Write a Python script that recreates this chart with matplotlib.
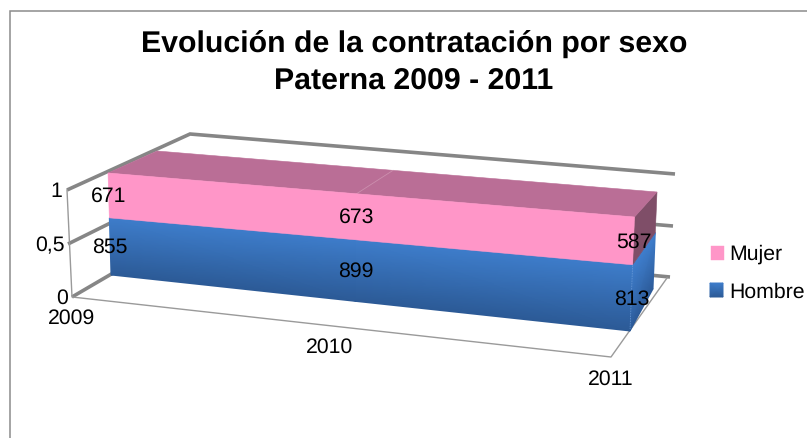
import matplotlib
matplotlib.use("Agg")
import matplotlib.pyplot as plt
from matplotlib.colors import LinearSegmentedColormap
import numpy as np

# ---- data ----
years = ["2009", "2010", "2011"]
hombre = [855, 899, 813]
mujer = [671, 673, 587]
value_ticks = [0, 0.5, 1]
value_tick_labels = ["0", "0,5", "1"]
title = "Evolución de la contratación por sexo\nPaterna 2009 - 2011"

plt.rcParams["font.family"] = ["Liberation Sans", "DejaVu Sans"]
plt.rcParams["text.hinting"] = "no_hinting"
FS = 15.3
W, H = 807, 439
fig = plt.figure(figsize=(W / 100, H / 100), dpi=100, facecolor="white")
ax = fig.add_axes([0, 0, 1, 1])
ax.set_xlim(0, W)
ax.set_ylim(H, 0)
ax.axis("off")

# ---- pseudo-3D projection of the box (x along years, v stack share, d depth) ----
FL0, FL1 = np.array([111.0, 276.0]), np.array([108.0, 174.0])
FR0, FR1 = np.array([630.0, 332.0]), np.array([634.5, 218.0])
BL0, BL1 = np.array([159.0, 238.0]), np.array([157.0, 152.0])
BR0, BR1 = np.array([653.0, 290.0]), np.array([657.0, 193.0])
cat_pos = np.array([0.0, 0.472, 1.0])


def box(x, v, d=0.0):
    front = (1 - x) * ((1 - v) * FL0 + v * FL1) + x * ((1 - v) * FR0 + v * FR1)
    back = (1 - x) * ((1 - v) * BL0 + v * BL1) + x * ((1 - v) * BR0 + v * BR1)
    return (1 - d) * front + d * back


def lerp(a, b, t):
    return np.asarray(a) * (1 - t) + np.asarray(b) * t


def gradient(lower, upper, c_top, c_bot, z=3):
    """Smooth vertical-ish gradient between two polylines."""
    lower, upper = np.asarray(lower, float), np.asarray(upper, float)
    X = np.vstack([lower[:, 0], upper[:, 0]])
    Y = np.vstack([lower[:, 1], upper[:, 1]])
    C = np.vstack([np.zeros(len(lower)), np.ones(len(lower))])
    cmap = LinearSegmentedColormap.from_list("g", [c_bot, c_top])
    ax.pcolormesh(X, Y, C, shading="gouraud", cmap=cmap, vmin=0, vmax=1, zorder=z)


# ---- walls and grid ----
GRID = "#868686"
AXIS = "#9a9a9a"
wall_front = {0: (72, 298), 0.5: (68, 245), 1: (67, 191)}
wall_back_left = {0: (185, 232), 0.5: (187, 186), 1: (190, 135)}
wall_back_right = {0: (670, 278), 0.5: (673, 227), 1: (675, 175)}
for tick, lab, off in zip(value_ticks, value_tick_labels, [4, 3, 5]):
    p0, p1, p2 = wall_front[tick], wall_back_left[tick], wall_back_right[tick]
    ax.plot([p0[0], p1[0], p2[0]], [p0[1], p1[1], p2[1]], color=GRID, lw=2.6,
            solid_joinstyle="miter", solid_capstyle="butt", zorder=1)
    ax.text(p0[0] - off, p0[1] + 0.5, lab, ha="right", va="center", fontsize=FS, color="black", zorder=6)

floor_fl, floor_fr, floor_br = np.array([72, 298]), np.array([611, 358]), np.array([667, 279])
ax.plot([67, 72, 611, 667], [191, 298, 358, 279], color=AXIS, lw=1.0, zorder=2)

for pos, lab, off in zip(cat_pos, years, [(0, 20), (3, 21), (0, 21)]):
    p = lerp(floor_fl, floor_fr, pos)
    ax.text(p[0] + off[0], p[1] + off[1], lab, ha="center", va="center", fontsize=FS, color="black", zorder=6)

# ---- stacked 100 % series ----
h = np.array(hombre, float)
m = np.array(mujer, float)
share = h / (h + m)

bottom_edge = np.array([box(x, 0.0) for x in cat_pos])
mid_edge = np.array([box(x, s) for x, s in zip(cat_pos, share)])
top_edge = np.array([box(x, 1.0) for x in cat_pos])

# right side face
sb0, sb1 = box(1, 0, 0), box(1, 0, 1)
sm0, sm1 = box(1, share[-1], 0), box(1, share[-1], 1)
st0, st1 = box(1, 1, 0), box(1, 1, 1)
gradient(np.array([sb0, sb1]), np.array([sm0, sm1]), "#3F7FCF", "#2C5A98", z=3)
ax.fill(*np.array([sm0, sm1, st1, st0]).T, color="#7F4E68", lw=0.4, zorder=3)

# top face
ax.fill(*np.array([top_edge[0], top_edge[1], top_edge[2], box(1, 1, 1), box(cat_pos[1], 1, 1), box(0, 1, 1)]).T,
        color="#BA6E96", lw=0.4, zorder=3)
sa, sb = box(cat_pos[1], 1, 0), box(cat_pos[1], 1, 1)
ax.plot([sa[0], sb[0]], [sa[1], sb[1]], color="#CC8FAE", lw=0.6, zorder=4)

# front faces
gradient(bottom_edge, mid_edge, "#3E7DCB", "#2C5A96", z=4)
ax.fill(np.r_[mid_edge[:, 0], top_edge[::-1, 0]], np.r_[mid_edge[:, 1], top_edge[::-1, 1]],
        color="#FF96C8", lw=0.4, zorder=4)
ax.plot(*np.array([box(1, 0.02), box(1, share[-1])]).T, color="#6F9FDC", lw=0.6, ls=(0, (1, 1)), zorder=5)

# data labels, centred on each front segment
for x, s, hv, mv in zip(cat_pos, share, hombre, mujer):
    pa = box(x, s / 2)
    pb = box(x, (1 + s) / 2)
    ax.text(pa[0], pa[1], str(hv), ha="center", va="center", fontsize=FS, color="black", zorder=6)
    ax.text(pb[0], pb[1], str(mv), ha="center", va="center", fontsize=FS, color="black", zorder=6)

# ---- legend ----
ax.fill([711, 724, 724, 711], [247, 247, 261, 261], color="#FF96C8", lw=0.3, zorder=5)
gradient([[710, 298], [723, 298]], [[710, 284], [723, 284]], "#3E7DCB", "#2C5A96", z=5)
ax.text(729, 260, "Mujer", ha="left", va="baseline", fontsize=FS, color="black")
ax.text(729, 297.5, "Hombre", ha="left", va="baseline", fontsize=FS, color="black")

# ---- title and outer frame ----
ax.text(414, 89.5, title, ha="center", va="baseline", multialignment="center", fontsize=21.8,
        fontweight="bold", color="black", linespacing=1.47)
ax.plot([9.5, 9.5, W + 2], [H + 2, 12, 12], color="#8c8c8c", lw=1.1, zorder=0,
        solid_joinstyle="miter")

fig.savefig("out.png", dpi=100, facecolor="white")
